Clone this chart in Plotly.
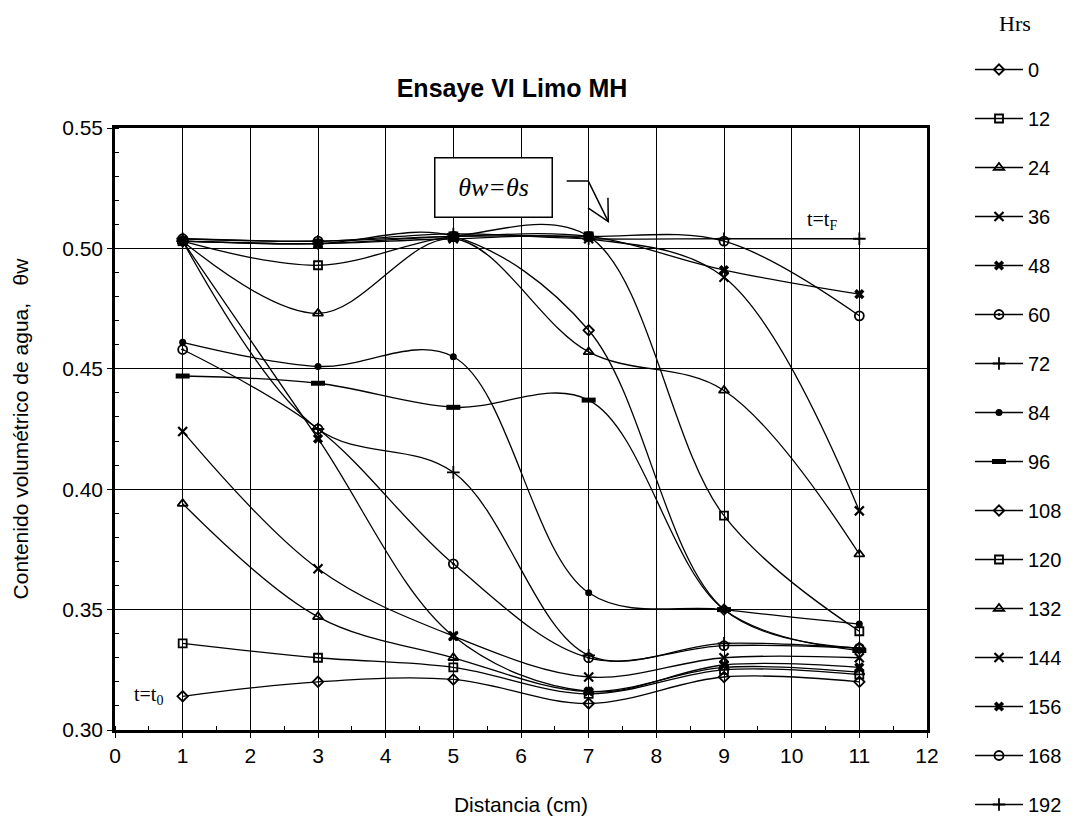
import plotly.graph_objects as go

# Distance along the specimen (cm)
distancia = [1, 3, 5, 7, 9, 11]

# Elapsed time of each profile (hours)
horas = [0, 12, 24, 36, 48, 60, 72, 84, 96, 108, 120, 132, 144, 156, 168, 192]

# Volumetric water content profiles, one list per elapsed time
theta_0 = [0.314, 0.320, 0.321, 0.311, 0.322, 0.320]
theta_12 = [0.336, 0.330, 0.326, 0.315, 0.325, 0.323]
theta_24 = [0.394, 0.347, 0.330, 0.316, 0.326, 0.324]
theta_36 = [0.424, 0.367, 0.339, 0.322, 0.330, 0.330]
theta_48 = [0.503, 0.421, 0.339, 0.316, 0.327, 0.326]
theta_60 = [0.458, 0.425, 0.369, 0.330, 0.335, 0.334]
theta_72 = [0.503, 0.425, 0.407, 0.331, 0.336, 0.334]
theta_84 = [0.461, 0.451, 0.455, 0.357, 0.350, 0.344]
theta_96 = [0.447, 0.444, 0.434, 0.437, 0.350, 0.333]
theta_108 = [0.503, 0.502, 0.505, 0.466, 0.350, 0.334]
theta_120 = [0.503, 0.493, 0.505, 0.505, 0.389, 0.341]
theta_132 = [0.503, 0.473, 0.504, 0.457, 0.441, 0.373]
theta_144 = [0.503, 0.502, 0.504, 0.504, 0.488, 0.391]
theta_156 = [0.503, 0.502, 0.505, 0.505, 0.491, 0.481]
theta_168 = [0.504, 0.503, 0.505, 0.505, 0.503, 0.472]
theta_192 = [0.504, 0.503, 0.506, 0.504, 0.504, 0.504]

perfiles = [theta_0, theta_12, theta_24, theta_36, theta_48, theta_60, theta_72,
            theta_84, theta_96, theta_108, theta_120, theta_132, theta_144,
            theta_156, theta_168, theta_192]

# Marker style per profile: (symbol, size, outline width)
simbolos = [
    ("diamond-open", 8, 1.8),
    ("square-open", 8, 1.8),
    ("triangle-up-open", 9, 1.8),
    ("x-thin-open", 9, 2.2),
    ("x", 9, 0),
    ("circle-open-dot", 9, 1.8),
    ("cross-thin-open", 9, 1.8),
    ("circle", 7, 0),
    ("line-ew-open", 10, 5),
    ("diamond-open", 8, 1.8),
    ("square-open", 8, 1.8),
    ("triangle-up-open", 9, 1.8),
    ("x-thin-open", 9, 2.2),
    ("x", 9, 0),
    ("circle-open", 9, 1.8),
    ("cross-thin-open", 9, 1.8),
]

fig = go.Figure()
for h, perfil, (sym, size, lw) in zip(horas, perfiles, simbolos):
    fig.add_trace(go.Scatter(
        x=distancia, y=perfil, name=str(h), legendgroup=str(h),
        mode="lines+markers",
        line=dict(color="black", width=1.3, shape="spline", smoothing=1.0),
        marker=dict(symbol=sym, size=size, color="black",
                    line=dict(color="black", width=lw)),
    ))

sans = "Liberation Sans, Arial"
serif = "Liberation Serif, Times New Roman"

axis_common = dict(
    showline=True, linecolor="black", linewidth=2.5, mirror=True,
    showgrid=True, gridcolor="black", gridwidth=1,
    ticks="outside", ticklen=5, tickcolor="black", tickwidth=1.3,
    tickfont=dict(family=sans, size=21, color="black"),
    zeroline=False, automargin=False,
)

fig.update_xaxes(
    range=[0, 12], dtick=1, tick0=0,
    minor=dict(dtick=0.5, ticks="inside", ticklen=4, tickcolor="black", showgrid=False),
    title=dict(text="Distancia (cm)", font=dict(family=sans, size=21, color="black"), standoff=34),
    **axis_common,
)
fig.update_yaxes(
    range=[0.30, 0.55], dtick=0.05, tickformat=".2f",
    minor=dict(dtick=0.01, ticks="inside", ticklen=4, tickcolor="black", showgrid=False),
    title=dict(text="Contenido volumétrico de agua,   θw", font=dict(family=sans, size=21, color="black"), standoff=28),
    **axis_common,
)

fig.update_layout(
    width=1080, height=816,
    margin=dict(l=115, r=153, t=128, b=86),
    plot_bgcolor="white", paper_bgcolor="white",
    title=dict(text="<b>Ensaye VI Limo MH</b>", x=512 / 1080, xanchor="center", y=1 - 88 / 816, yanchor="middle",
               font=dict(family=sans, size=25, color="black")),
    showlegend=True,
    legend=dict(
        xref="container", yref="container", x=970 / 1080, y=1 - 50 / 816, xanchor="left", yanchor="top",
        traceorder="grouped", tracegroupgap=20, itemwidth=48, maxheight=800,
        font=dict(family=sans, size=20, color="black"),
        bgcolor="rgba(0,0,0,0)",
    ),
    annotations=[
        dict(text="Hrs", xref="paper", yref="paper", x=(1015 - 115) / 812, y=1 + (128 - 24) / 602,
             xanchor="center", yanchor="middle", showarrow=False,
             font=dict(family=serif, size=22, color="black")),
        dict(text="<i>θw=θs</i>", xref="x", yref="y", x=5.59, y=0.5255, showarrow=False,
             font=dict(family=serif, size=26, color="black"),
             bordercolor="black", borderwidth=1.5, borderpad=10, bgcolor="white",
             width=96, height=38),
        dict(text="t=t<sub>F</sub>", xref="x", yref="y", x=10.45, y=0.5114, showarrow=False,
             font=dict(family=serif, size=20, color="black")),
        dict(text="t=t<sub>0</sub>", xref="x", yref="y", x=0.49, y=0.3145, showarrow=False,
             font=dict(family=serif, size=20, color="black")),
    ],
    shapes=[
        # leader and open arrowhead pointing from the label to the saturated profiles
        dict(type="path", xref="x", yref="y",
             path="M 6.675,0.5280 L 6.994,0.5280 L 7.290,0.5111",
             line=dict(color="black", width=1.5)),
        dict(type="path", xref="x", yref="y",
             path="M 7.285,0.5210 L 7.290,0.5111 L 6.990,0.5168",
             line=dict(color="black", width=1.5)),
    ],
)

fig.write_html("out.html")
